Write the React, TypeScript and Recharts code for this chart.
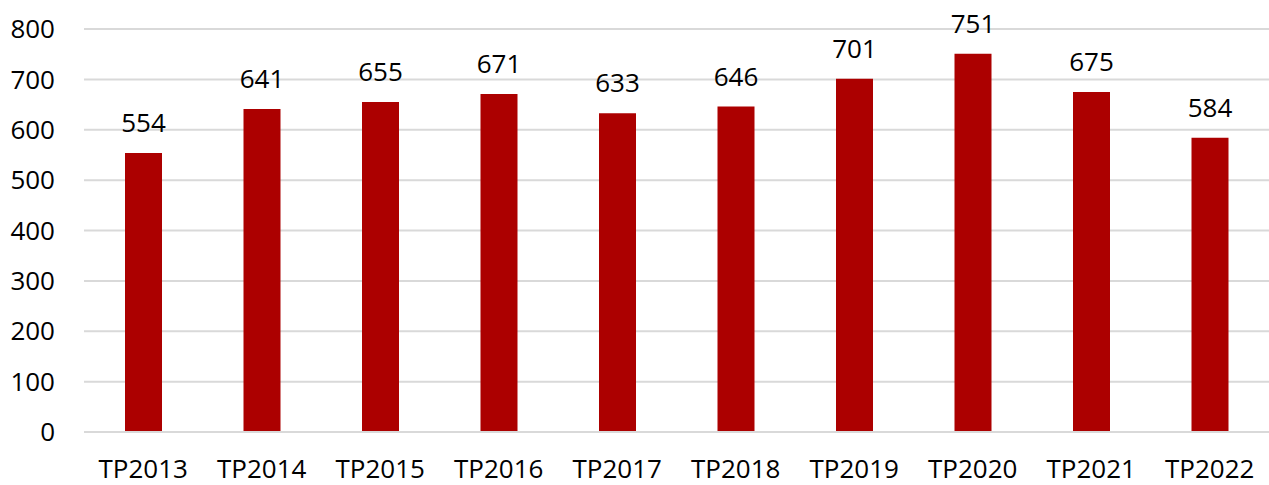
import React from 'react';
import { BarChart, Bar, XAxis, YAxis, CartesianGrid, LabelList } from 'recharts';

const years = ['TP2013', 'TP2014', 'TP2015', 'TP2016', 'TP2017', 'TP2018', 'TP2019', 'TP2020', 'TP2021', 'TP2022'];
const values = [554, 641, 655, 671, 633, 646, 701, 751, 675, 584];
const yTicks = [0, 100, 200, 300, 400, 500, 600, 700, 800];

const data = years.map((name, i) => ({ name, value: values[i] }));

const font = { fontFamily: '"Open Sans", "Noto Sans", sans-serif', fontSize: 26, fill: '#000' };

export default function App() {
  return (
    <div style={{ position: 'absolute', left: 0, top: 0, background: '#fff' }}>
      <BarChart width={1269} height={485} data={data} margin={{ top: 29, right: 0, bottom: 0, left: 0 }}>
        <CartesianGrid vertical={false} stroke="#d9d9d9" strokeWidth={2} />
        <XAxis
          dataKey="name"
          height={53}
          tickLine={false}
          tickSize={0}
          tickMargin={28}
          axisLine={{ stroke: '#d9d9d9', strokeWidth: 2 }}
          tick={font}
          interval={0}
        />
        <YAxis
          width={84}
          domain={[0, 800]}
          ticks={yTicks}
          axisLine={false}
          tickLine={false}
          tickSize={0}
          tickMargin={29}
          tick={font}
        />
        <Bar dataKey="value" fill="#ac0000" barSize={37} isAnimationActive={false}>
          <LabelList dataKey="value" position="top" offset={21} style={font} />
        </Bar>
      </BarChart>
    </div>
  );
}
